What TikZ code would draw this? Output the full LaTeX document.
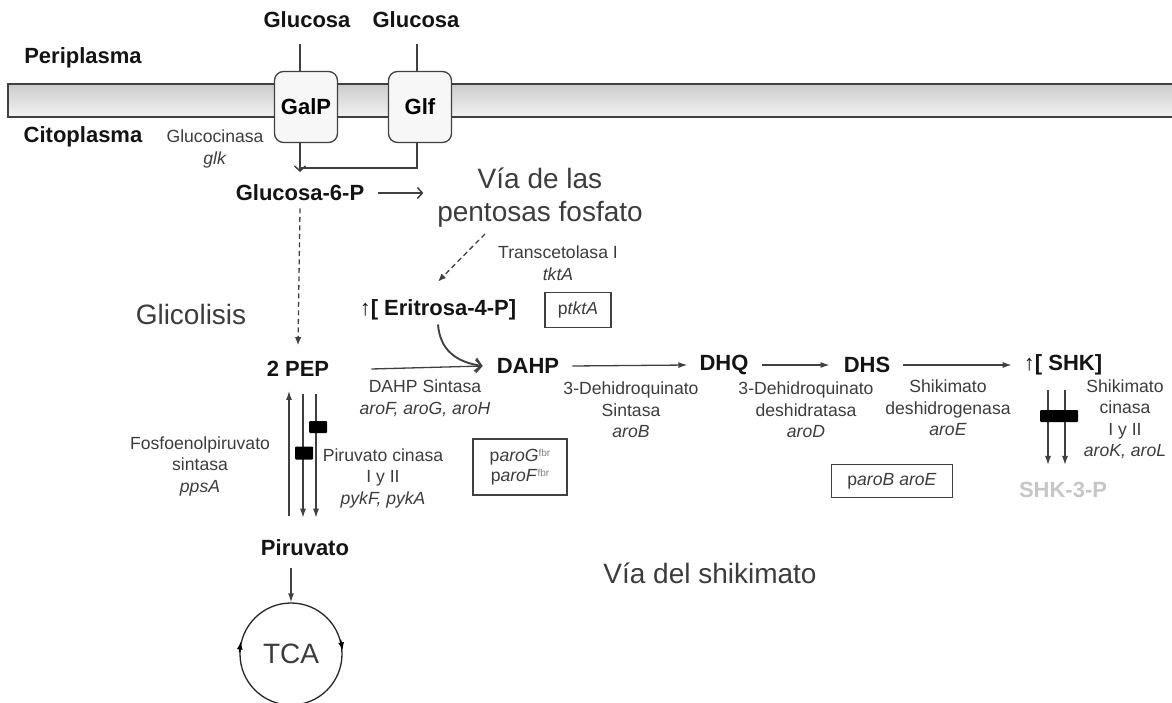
\documentclass[tikz,border=0pt]{standalone}
\usepackage{fontspec}
\setmainfont{Liberation Sans}
\usetikzlibrary{arrows.meta}
\definecolor{txt}{HTML}{3C3C3C}
\definecolor{ln}{HTML}{404040}

\begin{document}
\begin{tikzpicture}[x=1pt, y=-1pt,
    met/.style={font=\fontsize{22}{26}\selectfont\bfseries, text=black!92, inner sep=0pt},
    enz/.style={font=\fontsize{17.6}{21.5}\selectfont, text=txt, align=center, inner sep=0pt},
    big/.style={font=\fontsize{28}{33}\selectfont, text=txt, align=center, inner sep=0pt},
    carrier/.style={draw=black!75, line width=1.3pt, rounded corners=9pt, fill=gray!6,
        minimum width=63pt, minimum height=71pt, font=\fontsize{22}{26}\selectfont\bfseries},
    gene/.style={enz, draw=black!75, line width=1.1pt},
    blk/.style={fill=black, rounded corners=1pt, inner sep=0pt},
    lnk/.style={draw=ln, line width=1.3pt},
    flow/.style={lnk, -{Latex[length=9pt,width=6pt]}},
    barb/.style={lnk, line width=1.5pt, -{Straight Barb[length=5pt,width=11pt]}},
    dflow/.style={lnk, dash pattern=on 5pt off 3.5pt, -{Latex[length=8pt,width=6.5pt]}},
    fbr/.style={}]
    \useasboundingbox (0,0) rectangle (1172,703);

    \shade[top color=gray!40, bottom color=gray!10, draw=black!75, line width=1.6pt] (8,84) rectangle (1185,117);

    \node[met] (peri) at (83,58) {Periplasma};
    \node[met] (cito) at (83,137) {Citoplasma};
    \node[met] (glcA) at (307,20) {Glucosa};
    \node[met] (glcB) at (416,20) {Glucosa};
    \node[carrier] (galp) at (306,107) {GalP};
    \node[carrier] (glf) at (420,107) {Glf};
    \node[enz] (glk) at (215,149) {Glucocinasa\\\textit{glk}};
    \coordinate (join) at (300,168);

    \node[met] (g6p) at (300,193) {Glucosa-6-P};
    \node[big] (ppp) at (540,198) {Vía de las\\pentosas fosfato};
    \node[enz] (tkt) at (558,263) {Transcetolasa I\\\textit{tktA}};
    \node[met] (eri) at (438,310) {\textuparrow[ Eritrosa-4-P]};
    \node[gene, minimum width=66pt, minimum height=35pt] (ptkt) at (578,310) {p\textit{tktA}};
    \node[big] (glic) at (191,314) {Glicolisis};

    \node[met] (pep) at (298,369) {2 PEP};
    \node[met] (dahp) at (528,366) {DAHP};
    \node[met] (dhq) at (724,365) {DHQ};
    \node[met] (dhs) at (867,365) {DHS};
    \node[met] (shk) at (1063,365) {\textuparrow[ SHK]};
    \node[met, text=gray!45] (shkp) at (1063,490) {SHK-3-P};

    \node[enz] (aroFGH) at (425,398) {DAHP Sintasa\\\textit{aroF, aroG, aroH}};
    \node[enz] (aroB) at (631,410) {3-Dehidroquinato\\Sintasa\\\textit{aroB}};
    \node[enz] (aroD) at (806,410) {3-Dehidroquinato\\deshidratasa\\\textit{aroD}};
    \node[enz] (aroE) at (948,408) {Shikimato\\deshidrogenasa\\\textit{aroE}};
    \node[enz] (aroKL) at (1125,419) {Shikimato\\cinasa\\I y II\\\textit{aroK, aroL}};
    \node[gene, minimum width=94pt, minimum height=56pt] (parog) at (520,467)
        {p\textit{aroG}\raisebox{5pt}{\fontsize{10}{10}\selectfont\color{gray}fbr}\\[-1pt]
         p\textit{aroF}\raisebox{5pt}{\fontsize{10}{10}\selectfont\color{gray}fbr}};
    \node[gene, minimum width=121pt, minimum height=33pt] (parob) at (892,481) {p\textit{aroB aroE}};

    \node[enz] (pps) at (200,466) {Fosfoenolpiruvato\\sintasa\\\textit{ppsA}};
    \node[enz] (pyk) at (383,478) {Piruvato cinasa\\I y II\\\textit{pykF, pykA}};
    \node[met] (piru) at (305,548) {Piruvato};
    \node[big, draw=black!85, line width=1.3pt, circle, minimum size=102pt] (tca) at (291,654) {TCA};
    \node[big] (shik) at (710,573) {Vía del shikimato};

    \draw[lnk] ([xshift=-7pt]glcA.south) ++(0,16) -- ([xshift=-6pt]galp.north);
    \draw[lnk] ([xshift=1pt]glcB.south) ++(0,16) -- ([xshift=-3pt]glf.north);
    \draw[lnk] ([xshift=-3pt]glf.south) |- (join);
    \draw[barb] ([xshift=-6pt]galp.south) -- ([yshift=-4pt]join);
    \draw[barb] ([xshift=14pt]g6p.east) -- ++(45,0);
    \draw[dflow] ([yshift=-7pt]g6p.south) -- ([yshift=16pt]pep.north);
    \draw[dflow] ([xshift=-55pt,yshift=-6pt]ppp.south) -- ([yshift=18pt]eri.north);
    \draw[lnk, line width=1.9pt, -{Straight Barb[length=6pt,width=13pt]}] ([yshift=-4pt]eri.south)
        .. controls +(2,26) and +(-26,-4) .. ([xshift=-14pt]dahp.west);

    \draw[lnk, -{Straight Barb[length=6pt,width=13pt]}] ([xshift=42pt]pep.east) -- ([xshift=-14pt]dahp.west);
    \draw[flow] ([xshift=13pt]dahp.east) -- ([xshift=-12pt]dhq.west);
    \draw[flow] ([xshift=13pt]dhq.east) -- ([xshift=-14pt]dhs.west);
    \draw[flow] ([xshift=13pt]dhs.east) -- ([xshift=-12pt]shk.west);

    \draw[flow] ([xshift=-16pt,yshift=24pt]piru.north) -- ([xshift=-9pt,yshift=-14pt]pep.south);
    \draw[flow] ([xshift=5pt,yshift=-17pt]pep.south) -- ([xshift=-2pt,yshift=22pt]piru.north);
    \draw[flow] ([xshift=18pt,yshift=-17pt]pep.south) -- ([xshift=11pt,yshift=22pt]piru.north);
    \node[blk, minimum width=18pt, minimum height=12pt] (stop1) at (318,427) {};
    \node[blk, minimum width=18pt, minimum height=13pt] (stop2) at (304,453) {};
    \draw[flow] ([xshift=-14pt,yshift=-12pt]piru.south) -- (tca.north);
    \draw[-{Latex[length=8pt,width=6pt]}, line width=1.3pt] (tca.178) -- (tca.166);
    \draw[-{Latex[length=8pt,width=6pt]}, line width=1.3pt] (tca.16) -- (tca.4);

    \draw[flow] ([xshift=-15pt,yshift=-15pt]shk.south) -- ([xshift=-15pt,yshift=17pt]shkp.north);
    \draw[flow] ([xshift=2pt,yshift=-15pt]shk.south) -- ([xshift=2pt,yshift=17pt]shkp.north);
    \node[blk, minimum width=38pt, minimum height=12pt] (stop3) at (1059,416) {};
\end{tikzpicture}
\end{document}
